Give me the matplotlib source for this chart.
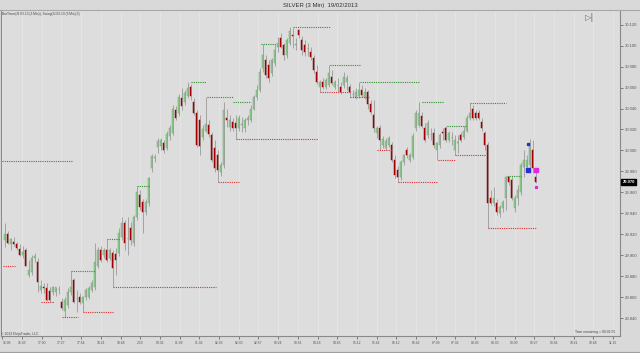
import matplotlib
matplotlib.use('Agg')
import matplotlib.pyplot as plt
from matplotlib.patches import Rectangle
from matplotlib.lines import Line2D
import matplotlib.transforms as mtransforms
import numpy as np

plt.rcParams['font.family'] = ['Liberation Sans', 'DejaVu Sans']

# ---------------- data (SILVER 3 Min, 19/02/2013) ----------------
opens = [29.914, 29.920, 29.911, 29.913, 29.911, 29.906, 29.900, 29.905, 29.881, 29.884,
         29.897, 29.893, 29.867, 29.870, 29.869, 29.866, 29.865, 29.865, 29.868, 29.855,
         29.847, 29.852, 29.865, 29.876, 29.859, 29.860, 29.854, 29.860, 29.860, 29.867,
         29.870, 29.890, 29.905, 29.900, 29.905, 29.897, 29.902, 29.901, 29.902, 29.917,
         29.931, 29.916, 29.926, 29.912, 29.936, 29.957, 29.951, 29.941, 29.950, 29.983,
         29.993, 30.003, 30.004, 30.007, 30.002, 30.014, 30.017, 30.039, 30.036, 30.050,
         30.046, 30.052, 30.061, 30.046, 30.036, 30.029, 30.013, 30.019, 30.024, 30.015,
         30.002, 29.996, 29.979, 29.986, 30.031, 30.022, 30.027, 30.026, 30.021, 30.024,
         30.021, 30.029, 30.029, 30.040, 30.051, 30.058, 30.079, 30.086, 30.082, 30.074,
         30.083, 30.099, 30.107, 30.101, 30.091, 30.103, 30.110, 30.101, 30.115, 30.105,
         30.101, 30.098, 30.094, 30.088, 30.075, 30.061, 30.065, 30.061, 30.062, 30.070,
         30.061, 30.062, 30.061, 30.062, 30.065, 30.061, 30.054, 30.051, 30.052, 30.058,
         30.051, 30.056, 30.044, 30.034, 30.017, 30.021, 30.005, 30.002, 30.005, 30.005,
         29.991, 29.981, 29.975, 29.989, 30.000, 29.991, 29.994, 30.021, 30.024, 30.033,
         30.021, 30.015, 30.016, 30.017, 30.000, 30.005, 30.018, 30.021, 30.010, 30.013,
         30.000, 30.007, 30.015, 30.013, 30.019, 30.031, 30.040, 30.036, 30.036, 30.027,
         30.017, 30.005, 29.955, 29.950, 29.950, 29.940, 29.945, 29.955, 29.975, 29.972,
         29.945, 29.955, 29.960, 29.984, 29.984, 29.986, 30.000, 29.975]
highs = [29.931, 29.923, 29.916, 29.917, 29.913, 29.911, 29.909, 29.907, 29.895, 29.900,
         29.902, 29.897, 29.876, 29.873, 29.873, 29.870, 29.871, 29.870, 29.871, 29.859,
         29.860, 29.869, 29.885, 29.878, 29.867, 29.864, 29.861, 29.869, 29.871, 29.876,
         29.912, 29.908, 29.909, 29.907, 29.915, 29.907, 29.905, 29.907, 29.926, 29.936,
         29.934, 29.936, 29.932, 29.938, 29.966, 29.962, 29.954, 29.954, 29.975, 29.997,
         29.997, 30.012, 30.012, 30.010, 30.019, 30.024, 30.043, 30.042, 30.054, 30.060,
         30.058, 30.065, 30.063, 30.050, 30.039, 30.034, 30.024, 30.051, 30.029, 30.018,
         30.010, 30.000, 29.989, 30.046, 30.040, 30.034, 30.031, 30.034, 30.034, 30.032,
         30.031, 30.034, 30.043, 30.053, 30.062, 30.079, 30.102, 30.091, 30.086, 30.088,
         30.101, 30.108, 30.112, 30.103, 30.107, 30.118, 30.117, 30.107, 30.116, 30.109,
         30.105, 30.103, 30.099, 30.091, 30.082, 30.067, 30.069, 30.069, 30.082, 30.077,
         30.067, 30.069, 30.065, 30.075, 30.072, 30.063, 30.058, 30.060, 30.065, 30.062,
         30.060, 30.058, 30.048, 30.048, 30.023, 30.024, 30.014, 30.012, 30.014, 30.008,
         29.996, 29.985, 29.991, 29.997, 30.003, 29.998, 30.017, 30.039, 30.046, 30.037,
         30.026, 30.029, 30.021, 30.021, 30.008, 30.017, 30.021, 30.023, 30.019, 30.018,
         30.015, 30.015, 30.018, 30.023, 30.034, 30.045, 30.043, 30.039, 30.039, 30.031,
         30.019, 30.008, 29.962, 29.965, 29.954, 29.948, 29.953, 29.976, 29.976, 29.975,
         29.957, 29.967, 29.989, 30.000, 29.996, 30.011, 30.010, 29.979]
lows = [29.908, 29.911, 29.905, 29.909, 29.905, 29.899, 29.897, 29.890, 29.879, 29.881,
        29.893, 29.865, 29.864, 29.864, 29.856, 29.855, 29.862, 29.861, 29.863, 29.848,
        29.841, 29.850, 29.862, 29.854, 29.846, 29.853, 29.846, 29.857, 29.858, 29.865,
        29.867, 29.888, 29.893, 29.897, 29.893, 29.895, 29.870, 29.881, 29.899, 29.914,
        29.905, 29.900, 29.910, 29.909, 29.934, 29.943, 29.921, 29.938, 29.947, 29.979,
        29.989, 29.998, 30.000, 29.998, 30.000, 30.010, 30.015, 30.029, 30.033, 30.039,
        30.043, 30.050, 30.048, 30.034, 30.003, 29.996, 30.010, 30.018, 30.013, 29.989,
        29.979, 29.970, 29.976, 29.983, 30.022, 30.019, 30.019, 30.011, 30.019, 30.018,
        30.018, 30.024, 30.027, 30.039, 30.048, 30.056, 30.075, 30.069, 30.065, 30.071,
        30.081, 30.094, 30.098, 30.086, 30.088, 30.101, 30.098, 30.096, 30.107, 30.091,
        30.090, 30.090, 30.086, 30.074, 30.063, 30.056, 30.059, 30.059, 30.061, 30.062,
        30.059, 30.056, 30.054, 30.060, 30.058, 30.051, 30.051, 30.049, 30.050, 30.051,
        30.049, 30.040, 30.035, 30.018, 30.012, 30.000, 30.002, 30.000, 30.003, 29.989,
        29.974, 29.970, 29.972, 29.986, 29.993, 29.989, 29.992, 30.019, 30.022, 30.021,
        30.008, 30.012, 30.010, 30.002, 29.991, 30.002, 30.010, 30.008, 30.008, 30.005,
        29.996, 29.998, 30.008, 30.011, 30.018, 30.029, 30.029, 30.029, 30.029, 30.019,
        30.000, 29.926, 29.948, 29.947, 29.938, 29.936, 29.941, 29.943, 29.967, 29.953,
        29.941, 29.948, 29.957, 29.975, 29.981, 29.983, 29.978, 29.969]
closes = [29.920, 29.912, 29.915, 29.911, 29.907, 29.900, 29.903, 29.890, 29.886, 29.897,
          29.899, 29.874, 29.871, 29.869, 29.857, 29.857, 29.870, 29.870, 29.868, 29.850,
          29.857, 29.865, 29.870, 29.855, 29.859, 29.855, 29.860, 29.867, 29.869, 29.873,
          29.893, 29.905, 29.895, 29.905, 29.895, 29.905, 29.888, 29.895, 29.921, 29.931,
          29.912, 29.916, 29.914, 29.936, 29.960, 29.946, 29.941, 29.951, 29.974, 29.995,
          29.994, 30.009, 30.010, 30.000, 30.016, 30.021, 30.040, 30.031, 30.051, 30.042,
          30.055, 30.060, 30.052, 30.036, 30.005, 30.004, 30.020, 30.025, 30.016, 29.991,
          29.983, 29.981, 29.986, 30.039, 30.029, 30.029, 30.021, 30.021, 30.031, 30.025,
          30.029, 30.031, 30.040, 30.051, 30.058, 30.075, 30.091, 30.072, 30.069, 30.086,
          30.096, 30.103, 30.099, 30.091, 30.105, 30.114, 30.109, 30.102, 30.110, 30.096,
          30.094, 30.098, 30.089, 30.077, 30.065, 30.065, 30.061, 30.067, 30.074, 30.064,
          30.065, 30.062, 30.056, 30.070, 30.069, 30.056, 30.054, 30.056, 30.058, 30.053,
          30.056, 30.044, 30.037, 30.021, 30.021, 30.010, 30.011, 30.009, 30.012, 29.991,
          29.977, 29.975, 29.989, 29.996, 29.996, 29.996, 30.014, 30.036, 30.036, 30.023,
          30.010, 30.026, 30.016, 30.005, 30.007, 30.015, 30.017, 30.010, 30.017, 30.013,
          30.010, 30.008, 30.010, 30.019, 30.031, 30.036, 30.031, 30.031, 30.031, 30.021,
          30.005, 29.950, 29.950, 29.955, 29.941, 29.946, 29.951, 29.975, 29.970, 29.955,
          29.955, 29.962, 29.986, 29.991, 29.991, 30.007, 29.983, 29.970]

# Swing indicator levels (price, first bar, last bar)
swing_hi_price = [29.990, 29.885, 29.915, 29.966, 30.065, 30.051, 30.046, 30.102,
                  30.118, 30.082, 30.065, 30.046, 30.023, 30.045, 29.976]
swing_hi_start = [0, 23, 35, 45, 63, 68.5, 77, 86.5, 97, 109.5, 119.5, 140, 148.5, 156, 168.5]
swing_hi_end = [23.5, 31, 39, 49.5, 68, 77, 83, 91.5, 109.5, 119.5, 139.5, 147, 155, 168, 173]
swing_lo_price = [29.890, 29.855, 29.841, 29.846, 29.870, 29.970, 30.011, 30.056,
                  30.051, 30.000, 29.970, 29.991, 29.996, 29.926]
swing_lo_start = [0.5, 13, 20, 27, 37, 72, 78, 106, 116, 125, 132, 145.5, 151, 162]
swing_lo_end = [4.5, 17.5, 25.5, 37, 71.5, 79, 105.5, 116, 122.5, 130, 145.5, 151, 161, 178]

marker_bar = [175.5, 175.5, 178, 178.2]
marker_price = [30.006, 29.981, 29.981, 29.965]
marker_color = ['#2a2ad8', '#2a2ad8', '#e028e0', '#e028e0']
marker_size = [1.4, 2.4, 2.4, 1.3]

time_labels = ['16:06', '16:33', '17:00', '17:27', '17:54', '18:21', '18:48', '2/19',
               '00:36', '01:09', '01:36', '02:03', '02:30', '02:57', '03:24', '03:51',
               '04:18', '04:45', '05:12', '05:42', '06:12', '06:42', '07:09', '07:36',
               '08:03', '08:30', '09:00', '09:27', '09:54', '10:21', '10:48', '11:15']
price_ticks = [29.84, 29.86, 29.88, 29.90, 29.92, 29.94, 29.96, 29.98,
               30.00, 30.02, 30.04, 30.06, 30.08, 30.10, 30.12]
last_price = 29.970

# ---------------- figure ----------------
W, H = 640, 353
fig = plt.figure(figsize=(W / 100, H / 100), dpi=100)
fig.patch.set_facecolor('#d9d9d9')
ax = fig.add_axes([1 / W, 17 / H, 619 / W, 326 / H])
ax.set_facecolor('#dddddd')

xs = np.arange(1, len(opens) + 1)
bw = 0.62
for xi, o, h, l, c in zip(xs, opens, highs, lows, closes):
    lo = min(l, o, c)
    hi = max(h, o, c)
    ax.vlines(xi, lo, hi, color='#999999', lw=0.6, zorder=2)
    if c > o:
        ax.add_patch(Rectangle((xi - bw / 2, o), bw, c - o, facecolor='#a4d8a4',
                               edgecolor='#6aac6a', lw=0.35, zorder=3))
    elif c < o:
        ax.add_patch(Rectangle((xi - bw / 2, c), bw, o - c, facecolor='#b40000',
                               edgecolor='#900000', lw=0.35, zorder=3))
    else:
        ax.hlines(o, xi - bw / 2, xi + bw / 2, color='#999999', lw=0.7, zorder=3)

for p, s, e in zip(swing_hi_price, swing_hi_start, swing_hi_end):
    ax.hlines(p, s, e, colors='#2f8f2f', linestyles=(0, (1, 1)), lw=0.8, zorder=4)
for p, s, e in zip(swing_lo_price, swing_lo_start, swing_lo_end):
    ax.hlines(p, s, e, colors='#d83030', linestyles=(0, (1, 1)), lw=0.8, zorder=4)

for b, p, col, ms in zip(marker_bar, marker_price, marker_color, marker_size):
    ax.plot(b, p, marker='s', ms=ms, color=col, mec=col, zorder=5)

# axes limits: one bar = 3 px
ax.set_xlim(1 / 3 - 0.5, 620 / 3 - 0.5)
y_top = 30.1436 - 0.0009547 * 10
y_bot = 30.1436 - 0.0009547 * 336
ax.set_ylim(y_bot, y_top)

tick_x = [(2.3 + 19.7 * i) / 3 - 0.5 for i in range(len(time_labels))]
ax.set_xticks(tick_x)
ax.set_xticklabels(time_labels)
ax.grid(axis='x', color='#e6e6e6', lw=0.6, zorder=0)
ax.set_axisbelow(True)

ax.yaxis.tick_right()
ax.set_yticks(price_ticks)
ax.set_yticklabels(['%.3f' % v for v in price_ticks])
ax.tick_params(axis='y', labelsize=3.0, colors='#555555', length=2, width=0.5, pad=1.5)
ax.tick_params(axis='x', labelsize=2.4, colors='#555555', length=2, width=0.5, pad=1.5)
ax.get_xticklabels()[0].set_horizontalalignment('left')

for side in ['left', 'right', 'bottom']:
    ax.spines[side].set_color('#8a8a8a')
    ax.spines[side].set_linewidth(0.8)
ax.spines['top'].set_color('#b0b0b0')
ax.spines['top'].set_linewidth(0.5)

# last price box
trans = mtransforms.blended_transform_factory(ax.transAxes, ax.transData)
ax.text(1.004, last_price, '%.3f' % last_price, transform=trans, ha='left', va='center',
        fontsize=3.0, color='white', fontweight='bold',
        bbox=dict(boxstyle='square,pad=0.25', facecolor='black', edgecolor='black'),
        zorder=6, clip_on=False)

# texts
fig.text(0.5, 1 - 5 / H, 'SILVER (3 Min)  19/02/2013', ha='center', va='center',
         fontsize=4.3, color='#333333')
fig.add_artist(Line2D([0, 1], [1 - 9.5 / H] * 2, color='#a8a8a8', lw=0.8))
fig.add_artist(Line2D([0, 1], [1 - 352 / H] * 2, color='#a0a0a0', lw=0.8))
fig.text(2 / W, 1 - 14.5 / H, 'BarTimer(SI 03-13 (3 Min)), Swing(SI 03-13 (3 Min),5)',
         ha='left', va='center', fontsize=2.3, color='#444444')
fig.text(1 / W, 1 - 333.5 / H, '\u00a9 2013 NinjaTrader, LLC', ha='left', va='center',
         fontsize=2.4, color='#444444')
fig.text(615 / W, 1 - 332 / H, 'Time remaining = 00:01:55', ha='right', va='center',
         fontsize=2.4, color='#444444')
fig.text(590 / W, 1 - 17 / H, '\u25b7|', ha='center', va='center', fontsize=6,
         color='#6a6a6a', family=['DejaVu Sans'])

fig.savefig('out.png', dpi=100, facecolor=fig.get_facecolor())
